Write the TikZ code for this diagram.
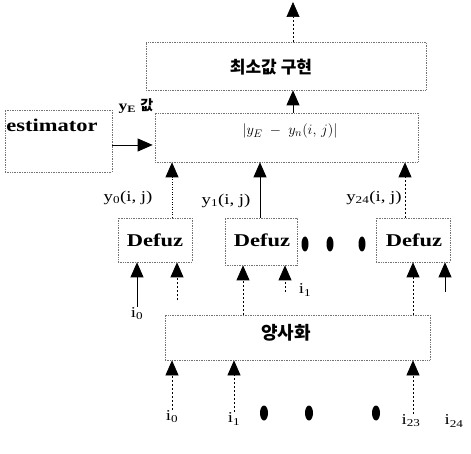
\documentclass[tikz,border=0pt]{standalone}
\usepackage{fontspec}
\setmainfont{Liberation Serif}[FakeStretch=1.25]
\newfontfamily\kr{Noto Sans CJK KR}
\usetikzlibrary{arrows.meta}
\tikzset{
  box/.style={draw=black!55, line width=0.7pt, densely dotted, inner sep=0pt, rectangle},
  arr/.style={-{Triangle[length=15pt,width=13pt]}, line width=0.7pt, draw=black},
  dsh/.style={dash pattern=on 2pt off 2pt},
  dtt/.style={dash pattern=on 1pt off 1.5pt},
  big/.style={font=\fontsize{18}{20}\selectfont\bfseries},
  lbl/.style={font=\fontsize{15}{17}\selectfont, inner sep=1pt},
  small/.style={font=\fontsize{15}{17}\selectfont, inner sep=1pt},
  hang/.style={font=\kr\bfseries\fontsize{17}{19}\selectfont, inner sep=0pt},
}
\begin{document}
\begin{tikzpicture}[x=1pt,y=-1pt]
\useasboundingbox (0,0) rectangle (471,454);
% boxes
\node[box, minimum width=280pt, minimum height=48pt] (A) at (286,66) {};
\node[hang] (At) at (271,67) {최소값 구현};
\node[box, minimum width=263pt, minimum height=49pt] (B) at (286.5,137.5) {};
\node[font=\fontsize{15}{17}\selectfont] (Bt) at (290,131) {$|y_E \;-\; y_n(i,\,j)|$};
\node[box, minimum width=107pt, minimum height=62pt] (E) at (58.5,141) {};
\node[big] (Et) at (52,125) {estimator};
\node[inner sep=0pt] (yE) at (136,106) {\fontsize{14}{16}\selectfont\bfseries y\textsubscript{E}\ \kr\bfseries 값};
\node[box, minimum width=74pt, minimum height=44pt] (D1) at (155,240) {};
\node[big] (D1t) at (155,240) {Defuz};
\node[box, minimum width=72pt, minimum height=47pt] (D2) at (261,241.5) {};
\node[big] (D2t) at (262,240) {Defuz};
\node[box, minimum width=74pt, minimum height=44pt] (D3) at (413,240) {};
\node[big] (D3t) at (414,240) {Defuz};
\node[box, minimum width=265pt, minimum height=45pt] (Q) at (297.5,337.5) {};
\node[hang, font=\kr\bfseries\fontsize{18}{20}\selectfont] (Qt) at (286,333) {양사화};
% labels
\node[lbl] (y0) at (128,198) {y\textsubscript{0}(i,\ j)};
\node[lbl] (y1) at (226,201) {y\textsubscript{1}(i,\ j)};
\node[lbl] (yM) at (374,198) {y\textsubscript{24}(i,\ j)};
\node[small] (a0) at (137,314) {i\textsubscript{0}};
\node[small] (a1) at (305,290) {i\textsubscript{1}};
\node[small] (b0) at (172,417) {i\textsubscript{0}};
\node[small] (b1) at (234,419) {i\textsubscript{1}};
\node[small] (b23) at (411,421) {i\textsubscript{23}};
\node[small] (b24) at (454,421) {i\textsubscript{24}};
% coordinates
\coordinate (out) at (293,2);
\coordinate (c1) at (172,0);
\coordinate (c2) at (260,0);
\coordinate (c3) at (405,0);
\coordinate (ce) at (0,145);
\coordinate (d1b) at (177,300);
\coordinate (d2b) at (285,292);
\coordinate (d3a) at (413,0);
\coordinate (d2a) at (243,0);
\coordinate (d3b) at (445,292);
% connectors
\draw[arr,dsh] (A.north -| out) -- (out);
\draw[arr] (B.north -| out) -- (A.south -| out);
\draw[arr] (E.east |- ce) -- ([xshift=-2pt]B.west |- ce);
\draw[arr,dtt] (D1.north -| c1) -- (B.south -| c1);
\draw[arr] (D2.north -| c2) -- (B.south -| c2);
\draw[arr,dsh] (D3.north -| c3) -- (B.south -| c3);
\draw[arr] (a0.north) -- (D1.south -| a0);
\draw[arr,dsh] (d1b) -- (D1.south -| d1b);
\draw[arr,dsh] (Q.north -| d2a) -- (D2.south -| d2a);
\draw[arr,dsh] (d2b) -- (D2.south -| d2b);
\draw[arr,dsh] (Q.north -| d3a) -- (D3.south -| d3a);
\draw[arr] (d3b) -- (D3.south -| d3b);
\draw[arr,dsh] (b0.north) -- (Q.south -| b0);
\draw[arr,dsh] (b1.north) -- (Q.south -| b1);
\draw[arr,dsh] ([xshift=2pt]b23.north) -- (Q.south -| d3a);
% dots
\foreach \x in {305,330,362} \fill (\x,244) ellipse (3.5pt and 7.5pt);
\foreach \x in {264,309,376} \fill (\x,413) ellipse (4pt and 7.5pt);
\end{tikzpicture}
\end{document}
